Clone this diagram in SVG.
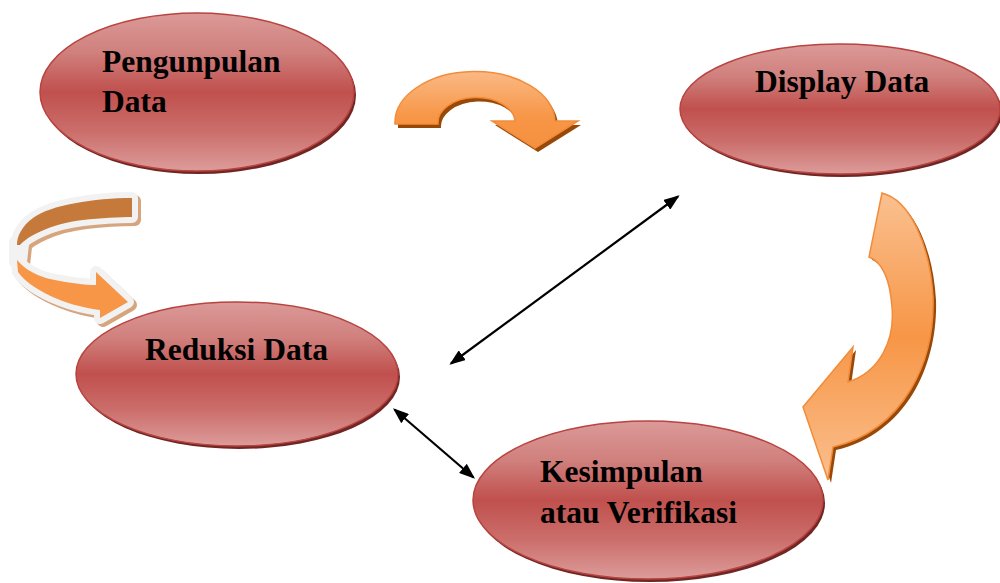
<svg xmlns="http://www.w3.org/2000/svg" width="1000" height="583" viewBox="0 0 1000 583">
  <defs>
    <linearGradient id="redFill" x1="0" y1="0" x2="0" y2="1">
      <stop offset="0" stop-color="#db9a98"/>
      <stop offset="0.25" stop-color="#d0807d"/>
      <stop offset="0.5" stop-color="#c0504d"/>
      <stop offset="0.75" stop-color="#cb6e6b"/>
      <stop offset="1" stop-color="#dc9c9a"/>
    </linearGradient>
    <linearGradient id="orangeV" x1="0" y1="0" x2="0" y2="1">
      <stop offset="0" stop-color="#fac090"/>
      <stop offset="0.5" stop-color="#f79646"/>
      <stop offset="1" stop-color="#fabf8e"/>
    </linearGradient>
    <linearGradient id="orangeTop" x1="0" y1="0" x2="0" y2="1">
      <stop offset="0" stop-color="#fab985"/>
      <stop offset="0.6" stop-color="#f79646"/>
      <stop offset="1" stop-color="#f59140"/>
    </linearGradient>
    <marker id="tip" viewBox="0 0 16 12" refX="14" refY="6" markerWidth="16" markerHeight="12" markerUnits="userSpaceOnUse" orient="auto-start-reverse">
      <path d="M0,0 L16,6 L0,12 Z" fill="#000"/>
    </marker>
    <!-- ribbon pieces, reused for shadow, white rim and fill -->
    <path id="ribbonBack" d="M132,198 C95,198 50,205 33,218 C22,226 17,236 17,245 L20,245 C28,236 50,224 83,220 C100,218 120,217 132,217 Z"/>
    <path id="ribbonFront" d="M17,260 C25,270 40,277 50,279 C70,283 85,285 96,285 L96,272 L128,302 L100,318 L100,310 C85,308 70,304 60,300 C40,292 25,282 18,272 Z"/>
    <path id="ribbonTurn" d="M15,242 L23,244 L21,262 L15,262 Z"/>
    <style>
      .oval { fill: url(#redFill); stroke: #b8433f; stroke-width: 1.5; }
      .oval-shadow { fill: #6f2624; }
      .label { font-family: "Liberation Serif", "Times New Roman", serif; font-weight: bold; font-size: 31.5px; fill: #000; }
      .link { stroke: #000; stroke-width: 2.2; fill: none; marker-start: url(#tip); marker-end: url(#tip); }
      .bend-shadow { fill: #984807; }
      .bend { stroke: #f28c3a; stroke-width: 1.5; }
      .ribbon-shadow { fill: #d6a47d; stroke: #d6a47d; stroke-width: 12; stroke-linejoin: round; }
      .ribbon-rim { fill: #f2f2f2; stroke: #f2f2f2; stroke-width: 12; stroke-linejoin: round; }
    </style>
  </defs>

  <!-- curved process arrows -->
  <g id="flow-arrows">
    <!-- top: collection to display -->
    <g id="arrow-top">
      <path class="bend-shadow" transform="translate(3,4)" d="M395,124 A80,51 0 0 1 555,121 L578,121 L535,148 L492,121 L515,121 A38.5,25 0 0 0 438,124 Z"/>
      <path class="bend" fill="url(#orangeTop)" d="M395,124 A80,51 0 0 1 555,121 L578,121 L535,148 L492,121 L515,121 A38.5,25 0 0 0 438,124 Z"/>
    </g>
    <!-- right: display to conclusion -->
    <g id="arrow-right">
      <path class="bend-shadow" transform="translate(3,3)" d="M882,193 C910,200 930,245 933,297 C935,360 905,430 833,447 L828,480 L803,407 L853,347 L848,382 C880,372 895,340 892,307 C890,280 882,262 869,257 Z"/>
      <path class="bend" fill="url(#orangeV)" d="M882,193 C910,200 930,245 933,297 C935,360 905,430 833,447 L828,480 L803,407 L853,347 L848,382 C880,372 895,340 892,307 C890,280 882,262 869,257 Z"/>
    </g>
    <!-- left: ribbon into reduction -->
    <g id="arrow-left">
      <g transform="translate(3,3)">
        <use href="#ribbonBack" class="ribbon-shadow"/>
        <use href="#ribbonTurn" class="ribbon-shadow"/>
        <use href="#ribbonFront" class="ribbon-shadow"/>
      </g>
      <use href="#ribbonBack" class="ribbon-rim"/>
      <use href="#ribbonTurn" class="ribbon-rim"/>
      <use href="#ribbonFront" class="ribbon-rim"/>
      <use href="#ribbonBack" fill="#c5793a"/>
      <use href="#ribbonFront" fill="#f79646"/>
    </g>
  </g>

  <!-- two-way links -->
  <g id="connectors">
    <line class="link" x1="678" y1="196.5" x2="451" y2="363.5"/>
    <line class="link" x1="394.5" y1="409.5" x2="473.5" y2="477.5"/>
  </g>

  <g id="node-pengumpulan">
    <ellipse class="oval-shadow" cx="199" cy="95" rx="157" ry="79"/>
    <ellipse class="oval" cx="197" cy="92" rx="157" ry="79"/>
    <text class="label" x="102" y="72">Pengunpulan</text>
    <text class="label" x="102" y="112">Data</text>
  </g>

  <g id="node-display">
    <ellipse class="oval-shadow" cx="842" cy="112" rx="160" ry="65"/>
    <ellipse class="oval" cx="840" cy="109" rx="160" ry="65"/>
    <text class="label" x="755" y="92">Display Data</text>
  </g>

  <g id="node-reduksi">
    <ellipse class="oval-shadow" cx="239" cy="377" rx="161" ry="72"/>
    <ellipse class="oval" cx="237" cy="374" rx="161" ry="72"/>
    <text class="label" x="145" y="360">Reduksi Data</text>
  </g>

  <g id="node-kesimpulan">
    <ellipse class="oval-shadow" cx="650" cy="503" rx="175" ry="79"/>
    <ellipse class="oval" cx="648" cy="500" rx="175" ry="79"/>
    <text class="label" x="540" y="482">Kesimpulan</text>
    <text class="label" x="540" y="523">atau Verifikasi</text>
  </g>
</svg>
